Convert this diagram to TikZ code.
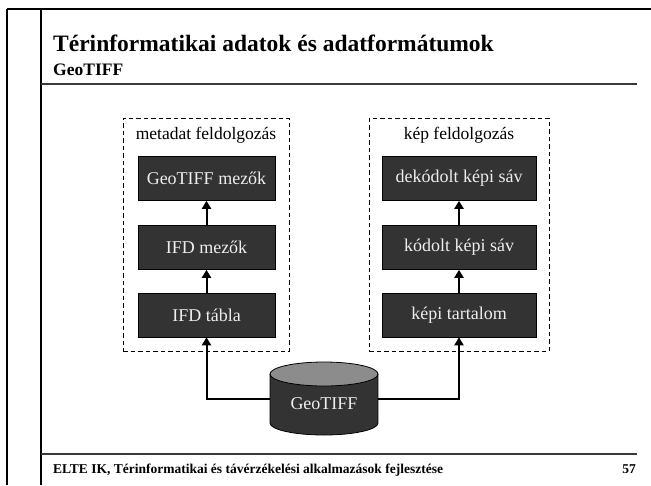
\documentclass[tikz,border=0pt]{standalone}
\usepackage{fontspec}
\setmainfont{Liberation Serif}
\usetikzlibrary{arrows.meta}
\definecolor{boxfill}{HTML}{333333}
\definecolor{txtlight}{HTML}{EEEEEE}
\definecolor{capfill}{HTML}{8C8C8C}
\definecolor{rulegray}{HTML}{3A3A3A}
\begin{document}
\begin{tikzpicture}[x=1pt,y=-1pt,
  procbox/.style={draw=black, line width=0.6pt, fill=boxfill, text=txtlight, minimum height=44pt, inner sep=0pt, font=\fontsize{18}{21}\selectfont},
  grp/.style={draw=black, line width=0.9pt, dash pattern=on 4.5pt off 3pt, minimum height=233pt, inner sep=0pt},
  grplabel/.style={font=\fontsize{17.5}{20}\selectfont, inner sep=0pt},
  arr/.style={line width=2pt, -{Triangle[length=8pt,width=9pt]}},
  ]
\useasboundingbox (0,0) rectangle (651,485);
\fill[white] (0,0) rectangle (651,485);
% frame
\draw[line width=2.5pt] (7,9) -- (651,9);
\draw[line width=2.5pt] (7,9) -- (7,485);
\draw[line width=1.2pt] (41,9) -- (41,485);
\draw[line width=2pt, rulegray] (41,84) -- (637,84);
\draw[line width=2pt, rulegray] (41,454) -- (637,454);
% titles
\node[anchor=base west, inner sep=0pt, font=\bfseries\fontsize{23.5}{27}\selectfont] (title) at (53,51) {Térinformatikai adatok és adatformátumok};
\node[anchor=base west, inner sep=0pt, font=\bfseries\fontsize{17.5}{20}\selectfont] (subtitle) at (53,75) {GeoTIFF};
\node[anchor=base west, inner sep=0pt, font=\bfseries\fontsize{13.5}{16}\selectfont] (footer) at (53,473) {ELTE IK, Térinformatikai és távérzékelési alkalmazások fejlesztése};
\node[anchor=base east, inner sep=0pt, font=\bfseries\fontsize{13.5}{16}\selectfont] (pagenum) at (636,473) {57};
% groups
\node[grp, minimum width=166pt] (gleft) at (206,234.5) {};
\node[grp, minimum width=180pt] (gright) at (459,234.5) {};
\node[grplabel] (lleft) at (206,135) {metadat feldolgozás};
\node[grplabel] (lright) at (459,135) {kép feldolgozás};
% boxes
\node[procbox, minimum width=137pt] (gtm) at (206.5,178.5) {GeoTIFF mezők};
\node[procbox, minimum width=137pt] (ifdm) at (206.5,247.5) {IFD mezők};
\node[procbox, minimum width=137pt] (ifdt) at (206.5,315) {IFD tábla};
\node[procbox, minimum width=154pt] (dks) at (459,178.5) {dekódolt képi sáv};
\node[procbox, minimum width=154pt] (kks) at (459,247.5) {kódolt képi sáv};
\node[procbox, minimum width=154pt] (kt) at (459,315) {képi tartalom};
% cylinder
\fill[boxfill] (270,374) rectangle (378,423);
\fill[boxfill] (324,423) ellipse [x radius=54, y radius=12];
\draw[line width=0.8pt] (270,374) -- (270,423) arc[start angle=180, end angle=0, x radius=54, y radius=12] -- (378,374);
\filldraw[fill=capfill, draw=black, line width=0.8pt] (324,374) ellipse [x radius=54, y radius=12];
\node[minimum width=108pt, minimum height=73pt, inner sep=0pt] (db) at (324,398.5) {};
\node[text=txtlight, inner sep=0pt, font=\fontsize{18}{21}\selectfont] (dblabel) at (324,404) {GeoTIFF};
% arrows
\draw[arr] (ifdt.north) -- (ifdm.south);
\draw[arr] (ifdm.north) -- (gtm.south);
\draw[arr] (kt.north) -- (kks.south);
\draw[arr] (kks.north) -- (dks.south);
\draw[arr] (db.west) -| (ifdt.south);
\draw[arr] (db.east) -| (kt.south);
\end{tikzpicture}
\end{document}
